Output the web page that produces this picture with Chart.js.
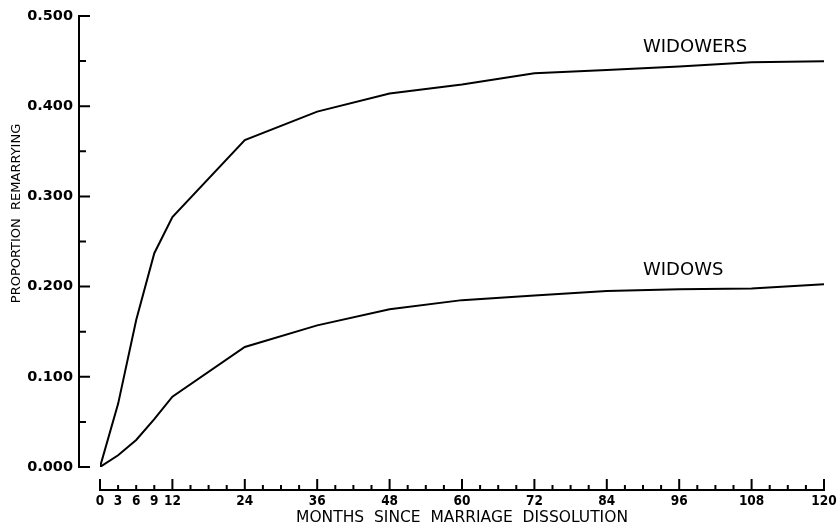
<!DOCTYPE html>
<html>
<head>
<meta charset="utf-8">
<script src="https://cdn.jsdelivr.net/npm/chart.js@4/dist/chart.umd.min.js"></script>
<style>
  body { margin: 0; background: #fff; }
  canvas { display: block; }
</style>
</head>
<body>
<canvas id="remarriage" width="839" height="527"></canvas>
<script>
// months since dissolution and proportions
const months = [0, 3, 6, 9, 12, 24, 36, 48, 60, 72, 84, 96, 108, 120];
const widowers = [0, 0.070, 0.163, 0.237, 0.277, 0.3625, 0.394, 0.414, 0.424, 0.4365, 0.440, 0.444, 0.4487, 0.4498];
const widows = [0, 0.013, 0.030, 0.053, 0.078, 0.133, 0.157, 0.175, 0.185, 0.190, 0.195, 0.197, 0.198, 0.2025];
const xLabelTicks = [0, 3, 6, 9, 12, 24, 36, 48, 60, 72, 84, 96, 108, 120];
const seriesNames = ['WIDOWERS', 'WIDOWS'];
// where the curve names sit (month, proportion of the baseline)
const nameSpots = [[90, 0.4604], [90, 0.2129]];

const toPoints = (ys) => months.map((m, i) => ({x: m, y: ys[i]}));

// axes are drawn detached from the plot area, ticks pointing inward
const plotterAxes = {
    id: 'plotterAxes',
    afterDraw(chart) {
        const {ctx, chartArea: {left, right, top, bottom}, scales: {x, y}} = chart;
        ctx.save();
        ctx.strokeStyle = '#000';
        ctx.lineWidth = 2;
        ctx.lineCap = 'square';

        // y axis
        const ax = left - 21;
        ctx.beginPath();
        ctx.moveTo(ax, y.getPixelForValue(0));
        ctx.lineTo(ax, y.getPixelForValue(0.5));
        for (let i = 0; i <= 10; i++) {
            const py = y.getPixelForValue(i * 0.05);
            ctx.moveTo(ax, py);
            ctx.lineTo(ax + (i % 2 === 0 ? 10 : 6), py);
        }
        ctx.stroke();

        // x axis
        const ay = bottom + 23;
        ctx.beginPath();
        ctx.moveTo(x.getPixelForValue(0), ay);
        ctx.lineTo(x.getPixelForValue(120), ay);
        for (let m = 0; m <= 120; m += 3) {
            const px = x.getPixelForValue(m);
            ctx.moveTo(px, ay);
            ctx.lineTo(px, ay - (m % 12 === 0 ? 10 : 4));
        }
        ctx.stroke();

        // y title
        ctx.fillStyle = '#000';
        ctx.font = '13px "DejaVu Sans"';
        ctx.textAlign = 'center';
        ctx.textBaseline = 'middle';
        ctx.translate(left - 83, (top + bottom) / 2 - 28);
        ctx.rotate(-Math.PI / 2);
        ctx.fillText('PROPORTION  REMARRYING', 0, 0);
        ctx.restore();

        // curve names
        ctx.save();
        ctx.fillStyle = '#000';
        ctx.font = '18px "DejaVu Sans"';
        ctx.textAlign = 'left';
        ctx.textBaseline = 'alphabetic';
        seriesNames.forEach((name, i) => {
            ctx.fillText(name, x.getPixelForValue(nameSpots[i][0]), y.getPixelForValue(nameSpots[i][1]));
        });
        ctx.restore();
    }
};

new Chart(document.getElementById('remarriage').getContext('2d'), {
    type: 'line',
    data: {
        datasets: [{
            label: seriesNames[0],
            data: toPoints(widowers),
            borderColor: '#000',
            borderWidth: 2,
            pointRadius: 0,
            tension: 0
        }, {
            label: seriesNames[1],
            data: toPoints(widows),
            borderColor: '#000',
            borderWidth: 2,
            pointRadius: 0,
            tension: 0
        }]
    },
    options: {
        responsive: false,
        animation: false,
        layout: { padding: { left: 0, top: 16, right: 15, bottom: 0 } },
        plugins: {
            legend: { display: false },
            tooltip: { enabled: false }
        },
        scales: {
            x: {
                type: 'linear',
                min: 0,
                max: 120,
                grid: { display: false, drawTicks: false },
                border: { display: false },
                afterFit: (s) => {
                    s.height = 60;
                    s.paddingLeft = 0;
                    s.paddingRight = 0;
                },
                ticks: {
                    stepSize: 3,
                    autoSkip: false,
                    maxRotation: 0,
                    padding: 26,
                    color: '#000',
                    font: { family: '"DejaVu Sans Condensed", "DejaVu Sans"', size: 13.5, weight: 'bold' },
                    callback: (v) => xLabelTicks.includes(v) ? String(v) : ''
                },
                title: {
                    display: true,
                    text: 'MONTHS  SINCE  MARRIAGE  DISSOLUTION',
                    color: '#000',
                    font: { family: 'DejaVu Sans', size: 15.5 },
                    padding: { top: 0, bottom: 0 }
                }
            },
            y: {
                type: 'linear',
                min: 0,
                max: 0.5,
                grid: { display: false, drawTicks: false },
                border: { display: false },
                afterFit: (s) => {
                    s.width = 100;
                    s.paddingTop = 0;
                    s.paddingBottom = 0;
                },
                ticks: {
                    stepSize: 0.05,
                    autoSkip: false,
                    padding: 27,
                    color: '#000',
                    font: { family: 'DejaVu Sans', size: 14.5, weight: 'bold' },
                    callback: (v) => Math.round(v * 1000) % 100 === 0 ? v.toFixed(3) : ''
                }
            }
        }
    },
    plugins: [plotterAxes]
});
</script>
</body>
</html>
